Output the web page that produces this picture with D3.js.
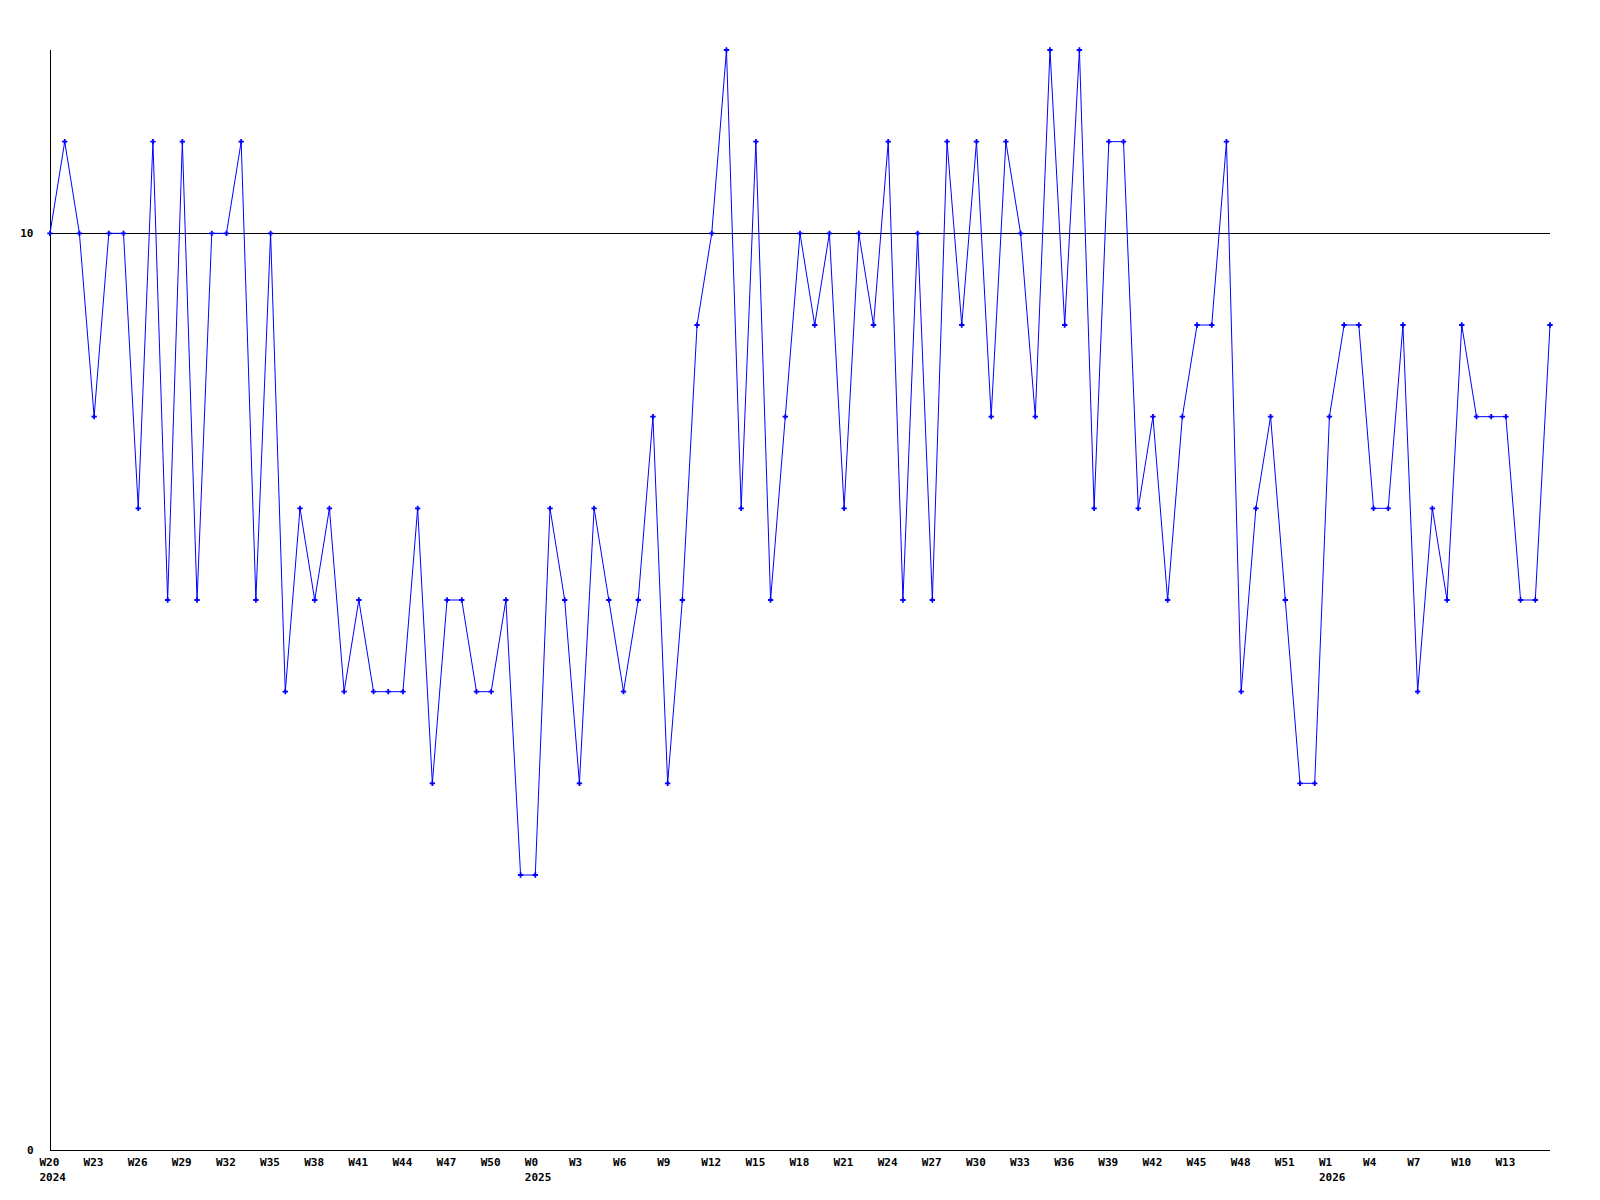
<!DOCTYPE html>
<html>
<head>
	<meta charset="UTF-8">
	<title>Weekly count</title>
	<script src="https://cdnjs.cloudflare.com/ajax/libs/d3/7.8.5/d3.min.js"></script>
	<style>
		body { margin: 0; background: #fff; }
		text { font-family: "DejaVu Sans Mono", monospace; font-weight: bold; font-size: 11px; fill: #000; }
	</style>
</head>

<body>
	<script>
		// weekly values, W20 2024 .. W16 2026 (one per week)
		var values = [
			10, 11, 10, 8, 10, 10, 7, 11, 6, 11,
			6, 10, 10, 11, 6, 10, 5, 7, 6, 7,
			5, 6, 5, 5, 5, 7, 4, 6, 6, 5,
			5, 6, 3, 3, 7, 6, 4, 7, 6, 5,
			6, 8, 4, 6, 9, 10, 12, 7, 11, 6,
			8, 10, 9, 10, 7, 10, 9, 11, 6, 10,
			6, 11, 9, 11, 8, 11, 10, 8, 12, 9,
			12, 7, 11, 11, 7, 8, 6, 8, 9, 9,
			11, 5, 7, 8, 6, 4, 4, 8, 9, 9,
			7, 7, 9, 5, 7, 6, 9, 8, 8, 8,
			6, 6, 9
		];

		// x tick labels, one every 3 weeks
		var tickLabels = ["W20", "W23", "W26", "W29", "W32", "W35", "W38", "W41", "W44", "W47",
			"W50", "W0", "W3", "W6", "W9", "W12", "W15", "W18", "W21", "W24",
			"W27", "W30", "W33", "W36", "W39", "W42", "W45", "W48", "W51", "W1",
			"W4", "W7", "W10", "W13"];
		var tickYears = ["2024", "", "", "", "", "", "", "", "", "",
			"", "2025", "", "", "", "", "", "", "", "",
			"", "", "", "", "", "", "", "", "", "2026",
			"", "", "", ""];
		var yTicks = [0, 10];
		var refLine = 10;

		// set the dimensions of the canvas
		var margin = {top: 50, right: 50, bottom: 50, left: 50},
		    width = 1600 - margin.left - margin.right,
		    height = 1200 - margin.top - margin.bottom;

		var x = d3.scaleLinear().domain([0, values.length - 1]).range([0, width]);
		var y = d3.scaleLinear().domain([0, 12]).range([height, 0]);

		var svg = d3.select("body").append("svg")
		    .attr("width", width + margin.left + margin.right)
		    .attr("height", height + margin.top + margin.bottom)
		    .append("g")
		    .attr("transform", "translate(" + margin.left + "," + margin.top + ")");

		// reference line at 10
		svg.append("line")
		    .attr("x1", x(0)).attr("x2", x(values.length - 1))
		    .attr("y1", y(refLine) + 0.5).attr("y2", y(refLine) + 0.5)
		    .attr("stroke", "#000")
		    .attr("shape-rendering", "crispEdges");

		// y axis
		var yAxis = svg.append("g")
		    .attr("transform", "translate(0.5,0)")
		    .call(d3.axisLeft(y).tickValues(yTicks).tickSize(0).tickPadding(17).tickFormat(d3.format("d")));
		yAxis.select(".domain").attr("d", "M0," + y(12) + "V" + (y(0) + 0.5)).attr("shape-rendering", "crispEdges");
		yAxis.selectAll("text").attr("font-size", null).attr("font-family", null);

		// x axis
		var tickIdx = tickLabels.map(function(d, i) { return i * 3; });
		var xAxis = svg.append("g")
		    .attr("transform", "translate(0," + (height + 0.5) + ")")
		    .call(d3.axisBottom(x).tickValues(tickIdx).tickSize(0)
		        .tickFormat(function(d, i) { return tickLabels[i]; }));
		xAxis.select(".domain").attr("d", "M0,0H" + width).attr("shape-rendering", "crispEdges");
		xAxis.selectAll("text")
		    .attr("font-size", null).attr("font-family", null)
		    .style("text-anchor", "start")
		    .attr("x", -11)
		    .attr("y", 15)
		    .attr("dy", null);
		xAxis.selectAll(".tick").append("text")
		    .style("text-anchor", "start")
		    .attr("x", -11)
		    .attr("y", 30)
		    .text(function(d, i) { return tickYears[i]; });

		// the line
		var line = d3.line()
		    .x(function(d, i) { return x(i); })
		    .y(function(d) { return y(d); });

		svg.append("path")
		    .datum(values)
		    .attr("fill", "none")
		    .attr("stroke", "#0000ff")
		    .attr("stroke-width", 1)
		    .attr("d", line);

		// point markers
		svg.selectAll(".pt")
		    .data(values)
		    .enter().append("path")
		    .attr("class", "pt")
		    .attr("fill", "#0000ff")
		    .attr("d", d3.symbol().type(d3.symbolCross).size(16))
		    .attr("transform", function(d, i) { return "translate(" + x(i) + "," + y(d) + ")"; });
	</script>
</body>
</html>
